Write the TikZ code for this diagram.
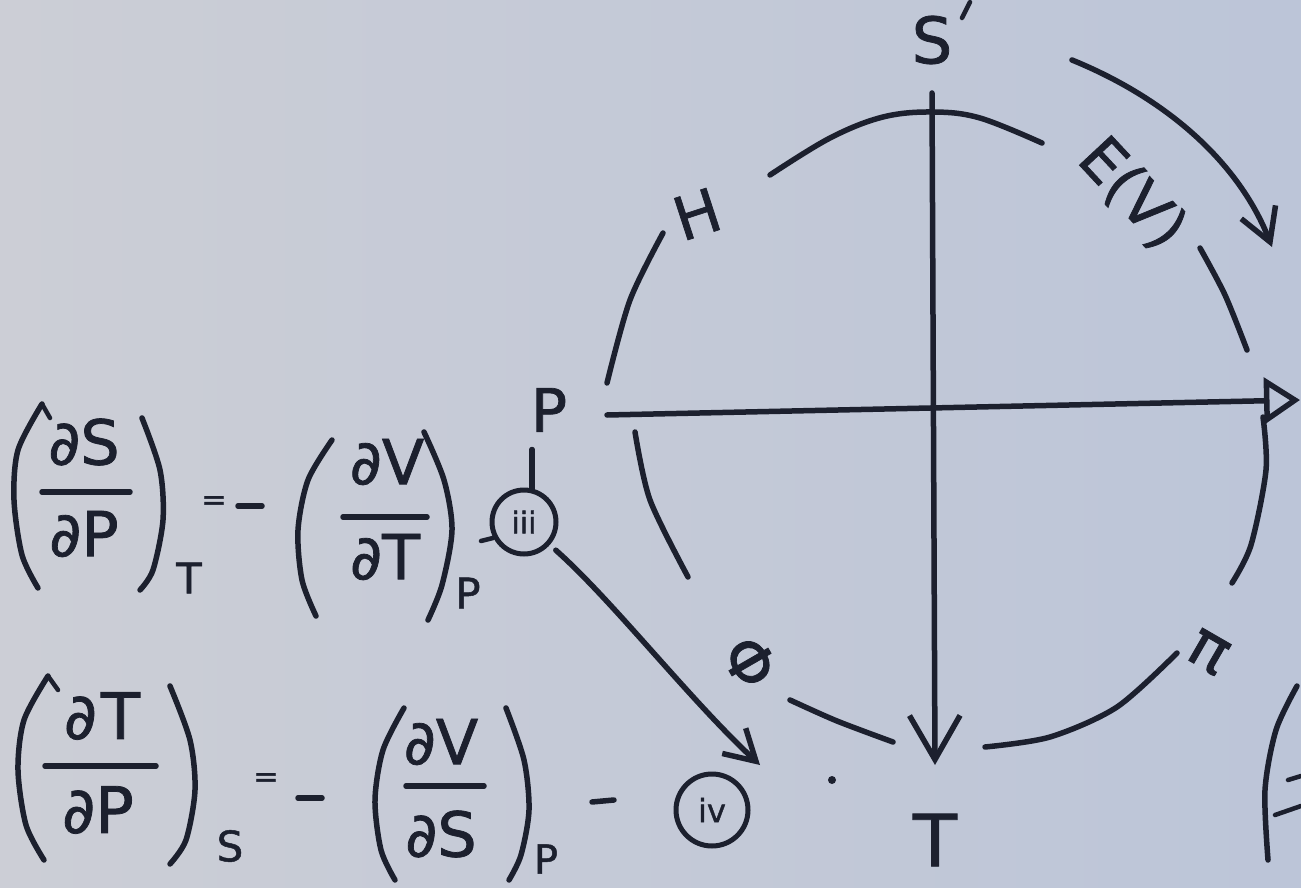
\documentclass[tikz,border=0pt]{standalone}
\usepackage{fontspec}
\setmainfont{DejaVu Sans}[FakeBold=1.2]
\usetikzlibrary{arrows.meta}
\definecolor{inkc}{RGB}{28,32,46}
\definecolor{bgl}{RGB}{204,206,214}
\definecolor{bgr}{RGB}{188,197,216}
\begin{document}
\begin{tikzpicture}[x=1pt,y=-1pt,
  lbl/.style={font=\fontsize{#1}{#1}\selectfont, inner sep=0pt, text=inkc},
  pen/.style={draw=inkc, line width=5.5pt, line cap=round, line join=round},
  fpen/.style={draw=inkc, line width=4.5pt, line cap=round, line join=round},
  ring/.style={circle, draw=inkc, line width=5pt, inner sep=0pt, minimum size=#1pt},
  barbtip/.style={-{Straight Barb[length=#1pt, width=1.15*#1pt]}}
]
\useasboundingbox (0,0) rectangle (1301,888);
\shade[left color=bgl, right color=bgr] (0,0) rectangle (1301,888);

% ---------- circle segments ----------
\draw[pen] plot[smooth, tension=0.6] coordinates {(770,175) (830,138) (883,117) (933,112) (980,118) (1042,143)};
\draw[pen] plot[smooth] coordinates {(1200,248) (1225,295) (1247,350)};
\draw[pen] plot[smooth] coordinates {(1263,417) (1266,470) (1251,545) (1232,583)};
\draw[pen] plot[smooth] coordinates {(985,747) (1050,737) (1117,707) (1177,653)};
\draw[pen] plot[smooth] coordinates {(790,700) (837,721) (893,742)};
\draw[pen] plot[smooth] coordinates {(635,432) (650,500) (688,577)};
\draw[pen] plot[smooth] coordinates {(663,233) (630,300) (607,383)};

% ---------- axis labels ----------
\node[lbl=64] (S) at (932,40) {S};
\node[lbl=72] (T) at (935,840) {T};
\node[lbl=60] (P) at (549,410) {P};
\node[lbl=60, rotate=18] (H) at (697,214) {H};
\node[lbl=60, rotate=-47] (E) at (1132,194) {E(V)};
\node[lbl=64, rotate=-30] (pi) at (1208,652) {π};
\node[lbl=62, rotate=-60] (Phi) at (750,662) {Φ};

\draw[fpen] (962,18) -- (970,2);
\fill[inkc] (832,780) circle (4pt);

% ---------- axes ----------
\coordinate (vtop) at (932,93);
\coordinate (vbot) at (935,765);
\coordinate (hleft) at (607,415);
\coordinate (hright) at (1300,400);
\draw[pen, barbtip=44] (vtop) -- (vbot);
\draw[pen, -{Triangle[open, length=36pt, width=46pt]}] (hleft) -- (hright);

% ---------- top right arrow ----------
\coordinate (ta) at (1072,60);
\coordinate (tb) at (1272,247);
\draw[pen, barbtip=32] (ta) .. controls (1170,100) and (1240,165) .. (tb);

% ---------- equation 1 ----------
\draw[pen] plot[smooth] coordinates {(42,404) (18,450) (14,500) (22,555) (38,588)};
\draw[fpen] (42,404) -- (50,418);
\node[lbl=62] (n1) at (84,442) {∂S};
\draw[pen] (42,492) -- (130,492);
\node[lbl=62] (d1) at (84,534) {∂P};
\draw[pen] plot[smooth] coordinates {(142,418) (160,470) (163,520) (153,570) (140,590)};
\node[lbl=42] (s1) at (189,578) {T};
\node[lbl=30] (eq1) at (214,503) {=};
\draw[pen] (238,506) -- (262,506);
\draw[pen] plot[smooth] coordinates {(332,440) (308,480) (298,530) (302,580) (316,616)};
\node[lbl=62] (n2) at (387,462) {∂V};
\draw[pen] (343,517) -- (427,517);
\node[lbl=62] (d2) at (385,557) {∂T};
\draw[pen] plot[smooth] coordinates {(424,432) (444,480) (452,530) (442,585) (428,620)};
\node[lbl=42] (s2) at (468,593) {P};
\draw[fpen] (481,541) -- (493,538);
\node[ring=64, lbl=30] (c3) at (524,522) {iii};
\draw[pen] (c3.north) ++(8,2) -- ++(0,-40);

% arrow from iii
\coordinate (ab) at (760,765);
\draw[pen, barbtip=30, shorten <=8pt] (c3) .. controls (612,600) and (690,700) .. (ab);

% ---------- equation 2 ----------
\draw[pen] plot[smooth] coordinates {(48,676) (24,720) (18,770) (26,825) (44,860)};
\draw[fpen] (48,676) -- (58,690);
\node[lbl=64] (n3) at (102,716) {∂\hspace{4pt}T};
\draw[pen] (45,766) -- (156,766);
\node[lbl=64] (d3) at (98,810) {∂P};
\draw[pen] plot[smooth] coordinates {(170,686) (190,740) (195,790) (186,840) (170,864)};
\node[lbl=42] (s3) at (230,846) {S};
\node[lbl=30] (eq2) at (266,780) {=};
\draw[pen] (298,798) -- (322,798);
\draw[pen] plot[smooth] coordinates {(404,708) (383,750) (375,800) (381,850) (395,880)};
\node[lbl=62] (n4) at (441,742) {∂V};
\draw[pen] (406,786) -- (484,786);
\node[lbl=62] (d4) at (441,834) {∂S};
\draw[pen] plot[smooth] coordinates {(506,708) (524,760) (529,810) (521,855) (509,880)};
\node[lbl=40] (s4) at (546,859) {P};
\draw[pen] (592,802) -- (614,800);
\node[ring=72, lbl=32] (c4) at (712,810) {iv};

% ---------- partial expression at right edge ----------
\draw[pen] plot[smooth] coordinates {(1297,686) (1276,730) (1265,790) (1268,860)};
\draw[fpen] (1288,780) -- (1301,776);
\draw[fpen] (1275,815) -- (1301,806);
\end{tikzpicture}
\end{document}
